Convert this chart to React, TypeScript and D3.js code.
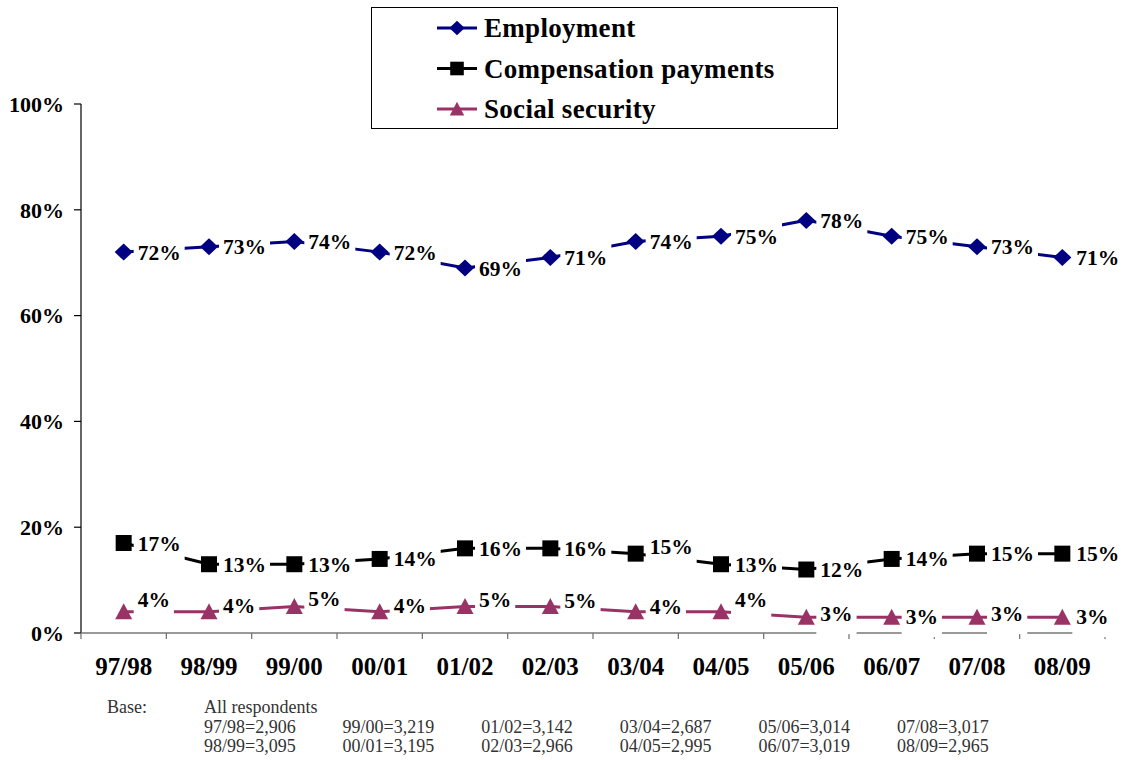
import React from 'react';
import * as d3 from 'd3';

// Survey periods and the share of respondents citing each income source (%)
const categories = ['97/98', '98/99', '99/00', '00/01', '01/02', '02/03', '03/04', '04/05', '05/06', '06/07', '07/08', '08/09'];
const employment = [72, 73, 74, 72, 69, 71, 74, 75, 78, 75, 73, 71];
const compensation = [17, 13, 13, 14, 16, 16, 15, 13, 12, 14, 15, 15];
const socialSecurity = [4, 4, 5, 4, 5, 5, 4, 4, 3, 3, 3, 3];
const yTicks = [0, 20, 40, 60, 80, 100];

// Base sizes, listed column by column
const baseLabel = 'Base:';
const baseTitle = 'All respondents';
const baseCounts = [
  ['97/98=2,906', '98/99=3,095'],
  ['99/00=3,219', '00/01=3,195'],
  ['01/02=3,142', '02/03=2,966'],
  ['03/04=2,687', '04/05=2,995'],
  ['05/06=3,014', '06/07=3,019'],
  ['07/08=3,017', '08/09=2,965'],
];

type Shape = 'diamond' | 'square' | 'triangle';
interface Series { name: string; values: number[]; color: string; shape: Shape; lift: number[] }

const series: Series[] = [
  { name: 'Employment', values: employment, color: '#000080', shape: 'diamond', lift: [0, 0, 0, 0, 0, 0, 0, 0, 0, 0, 0, 0] },
  { name: 'Compensation payments', values: compensation, color: '#000000', shape: 'square', lift: [0, 0, 0, 0, 0, 0, 7, 0, 0, 0, 0, 0] },
  { name: 'Social security', values: socialSecurity, color: '#993366', shape: 'triangle', lift: [12, 6, 8, 6, 7, 6, 5, 12, 4, 1, 4, 1] },
];

const W = 1125;
const H = 760;
const plot = { left: 81, right: 1105, top: 104, bottom: 633 };
const FONT = '"Liberation Serif", "Times New Roman", serif';

function markerPath(shape: Shape, cx: number, cy: number, s = 1): string {
  if (shape === 'diamond') {
    const a = 9 * s, b = 8.5 * s;
    return `M${cx},${cy - b}L${cx + a},${cy}L${cx},${cy + b}L${cx - a},${cy}Z`;
  }
  if (shape === 'square') {
    const a = 8 * s;
    return `M${cx - a},${cy - a}h${2 * a}v${2 * a}h${-2 * a}Z`;
  }
  const a = 8.5 * s, h = 16 * s;
  return `M${cx},${cy - h * 0.53}L${cx + a},${cy + h * 0.47}L${cx - a},${cy + h * 0.47}Z`;
}

// rough advance width of a bold percentage label in Liberation Serif
function labelWidth(text: string, size: number): number {
  let w = 0;
  for (const ch of text) w += ch === '%' ? 1.0 : 0.5;
  return w * size;
}

export default function App() {
  const x = d3.scaleBand<string>().domain(categories).range([plot.left, plot.right]).paddingInner(0).paddingOuter(0);
  const y = d3.scaleLinear().domain([0, 100]).range([plot.bottom, plot.top]);
  const cx = (c: string) => (x(c) as number) + x.bandwidth() / 2;

  const line = d3.line<number>()
    .x((_, i) => cx(categories[i]))
    .y((v) => y(v));

  const boundaries = d3.range(categories.length + 1).map((i) => plot.left + i * x.bandwidth());
  const labelSize = 21.5;

  return (
    <svg width={W} height={H} style={{ position: 'absolute', left: 0, top: 0, background: '#fff' }} fontFamily={FONT}>
      <rect x={0} y={0} width={W} height={H} fill="#fff" />

      {/* y axis */}
      <line x1={plot.left} x2={plot.left} y1={plot.top} y2={plot.bottom} stroke="#000" strokeWidth={1.2} />
      {yTicks.map((t) => (
        <g key={t}>
          <line x1={plot.left - 7} x2={plot.left} y1={y(t)} y2={y(t)} stroke="#000" strokeWidth={1.2} />
          <text x={64} y={y(t)} dy="0.35em" textAnchor="end" fontSize={22} fontWeight="bold">{t}%</text>
        </g>
      ))}

      {/* x axis */}
      <line x1={plot.left} x2={plot.right} y1={plot.bottom} y2={plot.bottom} stroke="#777" strokeWidth={1.6} />
      {boundaries.map((bx, i) => (
        <line key={i} x1={bx} x2={bx} y1={plot.bottom} y2={plot.bottom + 6} stroke="#777" strokeWidth={1.3} />
      ))}
      {categories.map((c) => (
        <text key={c} x={cx(c)} y={675} textAnchor="middle" fontSize={25} fontWeight="bold">{c}</text>
      ))}

      {/* series lines */}
      {series.map((s) => (
        <path key={s.name} d={line(s.values) || ''} fill="none" stroke={s.color} strokeWidth={3} />
      ))}

      {/* markers */}
      {series.map((s) => (
        <g key={s.name}>
          {s.values.map((v, i) => (
            <path key={i} d={markerPath(s.shape, cx(categories[i]), y(v))} fill={s.color} />
          ))}
        </g>
      ))}

      {/* data labels on white boxes */}
      {series.map((s) => (
        <g key={s.name}>
          {s.values.map((v, i) => {
            const txt = `${v}%`;
            const tx = cx(categories[i]) + 14;
            const ty = y(v) - s.lift[i];
            const tw = labelWidth(txt, labelSize);
            return (
              <g key={i}>
                <rect x={tx - 4} y={ty - 16} width={tw + 8} height={37} fill="#fff" />
                <text x={tx} y={ty} dy="0.35em" fontSize={labelSize} fontWeight="bold">{txt}</text>
              </g>
            );
          })}
        </g>
      ))}

      {/* legend */}
      <rect x={371.5} y={7.5} width={466} height={121} fill="#fff" stroke="#000" strokeWidth={1} />
      {series.map((s, i) => {
        const ly = 28 + i * 40.5;
        return (
          <g key={s.name}>
            <line x1={437} x2={477} y1={ly} y2={ly} stroke={s.color} strokeWidth={3} />
            <path d={markerPath(s.shape, 457, ly, 0.85)} fill={s.color} />
            <text x={484} y={ly} dy="0.35em" fontSize={27} fontWeight="bold" letterSpacing={0.3}>{s.name}</text>
          </g>
        );
      })}

      {/* base note */}
      <g fill="#333" fontSize={18}>
        <text x={107} y={713}>{baseLabel}</text>
        <text x={204} y={713}>{baseTitle}</text>
        {baseCounts.map((col, ci) =>
          col.map((t, ri) => (
            <text key={t} x={204 + ci * 138.6} y={732.5 + ri * 19.5}>{t}</text>
          ))
        )}
      </g>
    </svg>
  );
}
